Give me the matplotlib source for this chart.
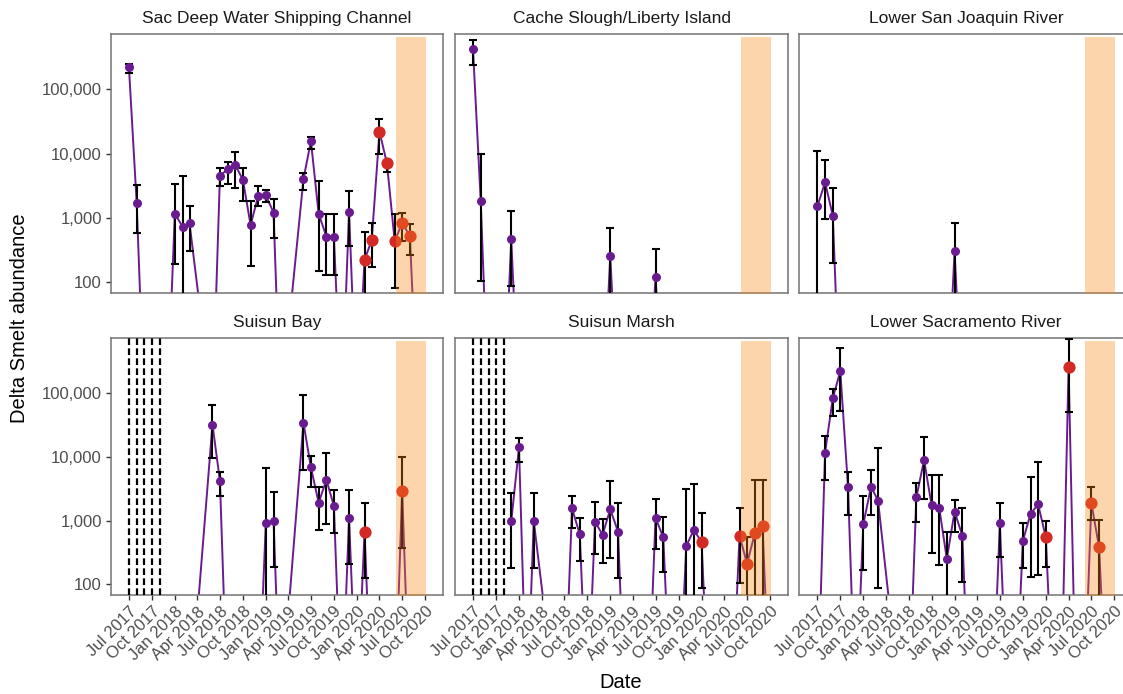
import numpy as np
import pandas as pd
import matplotlib
matplotlib.use("Agg")
import matplotlib.pyplot as plt
import matplotlib.dates as mdates
from matplotlib.ticker import FixedLocator, FuncFormatter, NullLocator

plt.rcParams['font.family'] = ['Liberation Sans', 'DejaVu Sans']

N = None

# survey months (first of month); Apr-May 2018 and Apr-May 2019 not surveyed
months = ["2017-07", "2017-08", "2017-09", "2017-10", "2017-11", "2017-12", "2018-01", "2018-02", "2018-03",
          "2018-06", "2018-07", "2018-08", "2018-09", "2018-10", "2018-11", "2018-12", "2019-01", "2019-02", "2019-03",
          "2019-06", "2019-07", "2019-08", "2019-09", "2019-10", "2019-11", "2019-12", "2020-01", "2020-02", "2020-03",
          "2020-04", "2020-05", "2020-06", "2020-07", "2020-08", "2020-09", "2020-10"]

# abundance estimates (0 = none caught, None = not sampled), lower / upper bounds (0 = bound at zero)
sdwsc_est = [220000, 1700, 0, 0, 0, 0, 1150, 730, 820,
             0, 4500, 5700, 6600, 3900, 770, 2150, 2250, 1200, 0,
             4000, 15600, 1150, 510, 510, 0, 1250, 0, 220, 450, 22000, 7000, 430, 830, 520, 0, 0]
sdwsc_lo = [180000, 570, N, N, N, N, 190, 0, 300,
            N, 3100, 3400, 2900, 1850, 180, 1550, 1750, 490, N,
            2700, 11800, 150, 130, 130, N, 360, N, 0, 170, 10000, 5100, 80, 440, 265, N, N]
sdwsc_hi = [250000, 3200, N, N, N, N, 3400, 4400, 1500,
            N, 5900, 7500, 10600, 6000, 1800, 3150, 2700, 1950, N,
            4950, 17900, 3750, 1150, 1150, N, 2600, N, 590, 830, 35000, 7500, 1150, 1180, 810, N, N]

cache_est = [420000, 1800, 0, 0, 0, 460, 0, 0, 0,
             0, 0, 0, 0, 0, 0, 0, 250, 0, 0,
             0, 120, 0, 0, 0, 0, 0, 0, 0, 0, 0, 0, 0, 0, 0, 0, 0]
cache_lo = [240000, 104, N, N, N, 85, N, N, N,
            N, N, N, N, N, N, N, 0, N, N,
            N, 0, N, N, N, N, N, N, N, N, N, N, N, N, N, N, N]
cache_hi = [580000, 10000, N, N, N, 1260, N, N, N,
            N, N, N, N, N, N, N, 680, N, N,
            N, 325, N, N, N, N, N, N, N, N, N, N, N, N, N, N, N]

lsj_est = [1500, 3550, 1080, 0, 0, 0, 0, 0, 0,
           0, 0, 0, 0, 0, 0, 0, 300, 0, 0,
           0, 0, 0, 0, 0, 0, 0, 0, 0, 0, 0, 0, 0, 0, 0, 0, 0]
lsj_lo = [0, 940, 200, N, N, N, N, N, N,
          N, N, N, N, N, N, N, 0, N, N,
          N, N, N, N, N, N, N, N, N, N, N, N, N, N, N, N, N]
lsj_hi = [10900, 8000, 2950, N, N, N, N, N, N,
          N, N, N, N, N, N, N, 820, N, N,
          N, N, N, N, N, N, N, N, N, N, N, N, N, N, N, N, N]

bay_est = [N, N, N, N, N, 0, 0, 0, 0,
           32000, 4200, 0, 0, 0, 0, 0, 900, 1000, 0,
           34000, 6800, 1900, 4350, 1700, 0, 1100, 0, 670, 0, 0, 0, 0, 2900, 0, 0, 0]
bay_lo = [N, N, N, N, N, N, N, N, N,
          9500, 2450, N, N, N, N, N, 0, 190, N,
          6100, 3400, 710, 880, 630, N, 210, N, 125, N, N, N, N, 370, N, N, N]
bay_hi = [N, N, N, N, N, N, N, N, N,
          65000, 5750, N, N, N, N, N, 6600, 2800, N,
          94000, 10100, 3400, 11400, 3050, N, 3050, N, 1850, N, N, N, N, 10000, N, N, N]

marsh_est = [N, N, N, N, N, 980, 14000, 0, 980,
             0, 0, 1550, 610, 0, 960, 600, 1500, 670, 0,
             0, 1100, 545, 0, 0, 400, 710, 465, 0, 0, 0, 0, 580, 210, 630, 830, 0]
marsh_lo = [N, N, N, N, N, 180, 8400, N, 180,
            N, N, 760, 230, N, 300, 215, 260, 125, N,
            N, 360, 155, N, N, 0, 0, 86, N, N, N, N, 105, 0, 0, 0, N]
marsh_hi = [N, N, N, N, N, 2700, 19600, N, 2700,
            N, N, 2450, 1100, N, 1980, 1050, 4200, 1850, N,
            N, 2200, 1130, N, N, 3100, 3700, 1300, N, N, N, N, 1580, 555, 4300, 4300, N]

lsac_est = [0, 11600, 83000, 220000, 3300, 0, 880, 3400, 2050,
            0, 0, 2300, 8900, 1750, 1550, 250, 1380, 580, 0,
            0, 900, 0, 0, 480, 1270, 1800, 545, 0, 0, 256000, 0, 0, 1900, 380, 0, 0]
lsac_lo = [N, 4300, 44000, 53000, 1220, N, 170, 1220, 86,
           N, N, 940, 2150, 315, 200, 0, 650, 110, N,
           N, 270, N, N, 180, 130, 140, 190, N, N, 51000, N, N, 1010, 0, N, N]
lsac_hi = [N, 20800, 115000, 510000, 5750, N, 2430, 6100, 13600,
           N, N, 3850, 20400, 5200, 5200, 670, 2100, 1580, N,
           N, 1860, N, N, 900, 4900, 8400, 1000, N, N, 690000, N, N, 3300, 1010, N, N]

regions = ["Sac Deep Water Shipping Channel", "Cache Slough/Liberty Island", "Lower San Joaquin River",
           "Suisun Bay", "Suisun Marsh", "Lower Sacramento River"]
dashed_regions = ["Suisun Bay", "Suisun Marsh"]
dashed_months = ["2017-07", "2017-08", "2017-09", "2017-10", "2017-11"]
shade_start, shade_end = "2020-06-05", "2020-10-03"
new_period = "2020-01"

series = {
    "Sac Deep Water Shipping Channel": (sdwsc_est, sdwsc_lo, sdwsc_hi),
    "Cache Slough/Liberty Island": (cache_est, cache_lo, cache_hi),
    "Lower San Joaquin River": (lsj_est, lsj_lo, lsj_hi),
    "Suisun Bay": (bay_est, bay_lo, bay_hi),
    "Suisun Marsh": (marsh_est, marsh_lo, marsh_hi),
    "Lower Sacramento River": (lsac_est, lsac_lo, lsac_hi),
}

purple = "#6a1b8f"
red = "#d42a26"
shade = (252 / 255, 136 / 255, 21 / 255)
spine_col = "#737373"
txt_col = "#4d4d4d"

W, H = 1123, 694
fig = plt.figure(figsize=(W / 100, H / 100), dpi=100)

cols = [(111, 443.3), (455, 788.3), (799.3, 1132.6)]
rows = [(34.3, 292.7), (338.3, 595)]

dates = pd.to_datetime(months)
xmin = pd.Timestamp("2017-07-01") - pd.Timedelta(days=72)
xmax = pd.Timestamp("2020-10-01") + pd.Timedelta(days=73)
ticks = pd.date_range("2017-07-01", "2020-10-01", freq="3MS")

for i, name in enumerate(regions):
    r, c = divmod(i, 3)
    x0, x1 = cols[c]
    y0, y1 = rows[r]
    ax = fig.add_axes([x0 / W, 1 - y1 / H, (x1 - x0) / W, (y1 - y0) / H])
    est, lo, hi = series[name]
    df = pd.DataFrame({"date": dates,
                       "est": np.array(est, dtype=float),
                       "lo": np.array(lo, dtype=float),
                       "hi": np.array(hi, dtype=float)}).dropna(subset=["est"])
    # zero catch drawn at 1 so the line drops off the bottom of the log axis
    ax.plot(df["date"], df["est"].replace(0, 1), color=purple, lw=1.4, zorder=2)

    pos = df[df["est"] > 0]
    low = pos["lo"].replace(0, 1)
    ax.errorbar(pos["date"], pos["est"], yerr=[pos["est"] - low, pos["hi"] - pos["est"]],
                fmt="none", ecolor="black", elinewidth=1.5, capsize=2.7, capthick=1.5, zorder=3)
    old = pos[pos["date"] < pd.Timestamp(new_period)]
    new = pos[pos["date"] >= pd.Timestamp(new_period)]
    ax.plot(old["date"], old["est"], "o", color=purple, ms=6.5, mew=0, zorder=4)
    ax.plot(new["date"], new["est"], "o", color=red, ms=8.8, mew=0, zorder=4)

    ax.fill_between([pd.Timestamp(shade_start), pd.Timestamp(shade_end)], 1, 6.5e5,
                    color=shade, alpha=0.35, lw=0, zorder=5)
    if name in dashed_regions:
        for m in dashed_months:
            ax.axvline(pd.Timestamp(m), color="black", lw=1.6, ls=(0, (3, 1.5)), zorder=6)

    ax.set_yscale("log")
    ax.set_ylim(68, 7.2e5)
    ax.set_xlim(xmin, xmax)
    ax.yaxis.set_major_locator(FixedLocator([100, 1000, 10000, 100000]))
    ax.yaxis.set_minor_locator(NullLocator())
    ax.yaxis.set_major_formatter(FuncFormatter(lambda v, p: f"{int(v):,}"))
    ax.xaxis.set_major_locator(FixedLocator(mdates.date2num(ticks)))
    ax.xaxis.set_major_formatter(mdates.DateFormatter("%b %Y"))
    ax.xaxis.set_minor_locator(NullLocator())

    for s in ax.spines.values():
        s.set_color(spine_col)
        s.set_linewidth(1.1)
    ax.tick_params(axis="both", length=3.5, width=1.0, color="#333333",
                   labelsize=12, labelcolor=txt_col, pad=3)
    if r == 0:
        ax.tick_params(axis="x", bottom=False, labelbottom=False)
    else:
        plt.setp(ax.get_xticklabels(), rotation=45, ha="right", va="top", rotation_mode="anchor")
    if c != 0:
        ax.tick_params(axis="y", left=False, labelleft=False)

    ax.annotate(name, xy=(0.5, 1), xycoords="axes fraction", xytext=(0, 16),
                textcoords="offset pixels", ha="center", va="center", fontsize=12.5, color="#1a1a1a")

fig.text(20 / W, 1 - 318 / H, "Delta Smelt abundance", rotation=90, ha="center", va="center",
         fontsize=14.5, color="black")
fig.text(621 / W, 1 - 682 / H, "Date", ha="center", va="center", fontsize=14.5, color="black")

fig.savefig("out.png", dpi=100)
